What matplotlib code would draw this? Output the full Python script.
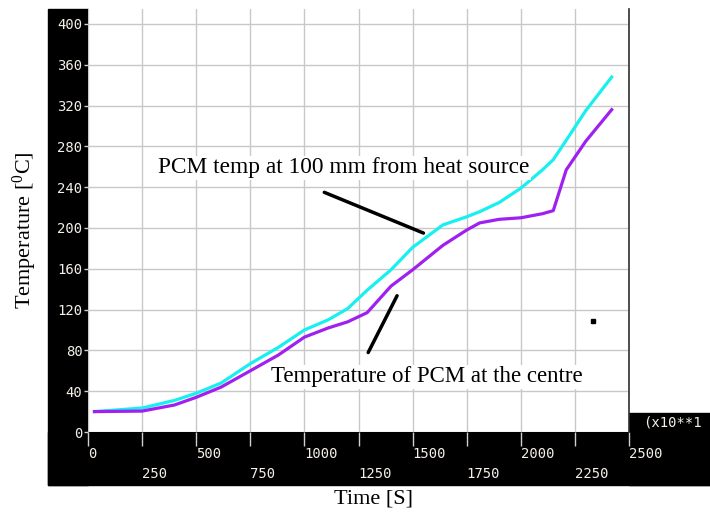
import matplotlib
matplotlib.use('Agg')
import matplotlib.pyplot as plt
from matplotlib.patches import Rectangle

# Time [s] and temperatures [C]
time_s = [30, 250, 400, 500, 615, 750, 880, 1000, 1110, 1200, 1290, 1400,
          1500, 1640, 1750, 1810, 1900, 2000, 2100, 2150, 2210, 2300, 2420]
temp_100mm = [20, 23.5, 31, 38, 48, 67, 83, 100, 110, 121, 139, 159,
              181, 203, 211, 216, 225, 239, 257, 267, 286, 315, 348]
temp_centre = [20, 20.5, 26.5, 34, 44, 60, 75.5, 93, 102, 108, 117, 143,
               159, 183, 198, 205, 208.5, 210, 214, 217, 257, 285, 316]

x_major = [0, 500, 1000, 1500, 2000, 2500]
x_minor = [250, 750, 1250, 1750, 2250]
y_ticks = list(range(0, 401, 40))

W, H = 710, 514


def fx(px):
    return px / W


def fy(py):
    return 1 - py / H


plt.rcParams['mathtext.fontset'] = 'custom'
plt.rcParams['mathtext.rm'] = 'Liberation Serif'
plt.rcParams['mathtext.it'] = 'Liberation Serif'

fig = plt.figure(figsize=(W / 100, H / 100), dpi=100)

# black frame bars (left and bottom) like the original solver plot
for x0, y0, x1, y1 in [(48, 9, 88, 485), (48, 432, 710, 485), (629, 413, 710, 485)]:
    fig.patches.append(Rectangle((fx(x0), fy(y1)), fx(x1) - fx(x0), fy(y0) - fy(y1),
                                 transform=fig.transFigure, color='black', zorder=-5))

ax = fig.add_axes([fx(88), fy(432), fx(629) - fx(88), fy(9) - fy(432)])
ax.set_xlim(0, 2500)
ax.set_ylim(0, 414.7)

ax.plot(time_s, temp_100mm, color='#18f0f0', lw=2.3, zorder=3)
ax.plot(time_s, temp_centre, color='#a020f0', lw=2.3, zorder=3)
ax.plot([2333], [109], marker='s', color='black', ms=3, zorder=3)

ax.set_xticks(x_major)
ax.set_xticks(x_minor, minor=True)
ax.set_xticklabels([str(v) for v in x_major])
ax.set_xticklabels([str(v) for v in x_minor], minor=True)
ax.set_yticks(y_ticks)
ax.grid(True, which='both', color='#c8c8c8', lw=1.0, zorder=0)

for lab in ax.get_xticklabels() + ax.get_xticklabels(minor=True):
    lab.set_ha('left')
    lab.set_fontfamily('DejaVu Sans Mono')
    lab.set_fontsize(10)
for lab in ax.get_yticklabels():
    lab.set_fontfamily('DejaVu Sans Mono')
    lab.set_fontsize(10)
ax.tick_params(axis='x', which='major', direction='out', length=10, width=1,
               color='#d0d0d0', labelcolor='#f4f0e8', pad=1)
ax.tick_params(axis='x', which='minor', direction='out', length=10, width=1,
               color='#d0d0d0', labelcolor='#f4f0e8', pad=15)
ax.tick_params(axis='y', direction='out', length=3, width=1,
               color='#d0d0d0', labelcolor='#f4f0e8', pad=1)

for side in ['top', 'left', 'bottom']:
    ax.spines[side].set_visible(False)
ax.spines['right'].set_color('#303030')
ax.spines['right'].set_linewidth(1.2)

# annotations
ax.annotate('', xy=(1562, 194), xytext=(1080, 236),
            arrowprops=dict(arrowstyle='-', color='black', lw=2.5), zorder=4)
ax.annotate('', xy=(1434, 136), xytext=(1289, 75.5),
            arrowprops=dict(arrowstyle='-', color='black', lw=2.5), zorder=4)
ax.text(325, 259, 'PCM temp at 100 mm from heat source', family='Liberation Serif',
        fontsize=16.8, va='center', ha='left', zorder=5,
        bbox=dict(facecolor='white', edgecolor='none', pad=1))
ax.text(846, 54, 'Temperature of PCM at the centre', family='Liberation Serif',
        fontsize=16.5, va='center', ha='left', zorder=5,
        bbox=dict(facecolor='white', edgecolor='none', pad=1))

fig.text(fx(643), fy(423), '(x10**1', family='DejaVu Sans Mono', fontsize=10,
         color='#f4f0e8', va='center', ha='left')
fig.text(fx(374), fy(499), 'Time [S]', family='Liberation Serif', fontsize=16,
         ha='center', va='center')
fig.text(fx(25), fy(230), 'Temperature [$^0$C]', family='Liberation Serif', fontsize=16,
         ha='center', va='center', rotation=90)

fig.savefig('out.png', dpi=100)
